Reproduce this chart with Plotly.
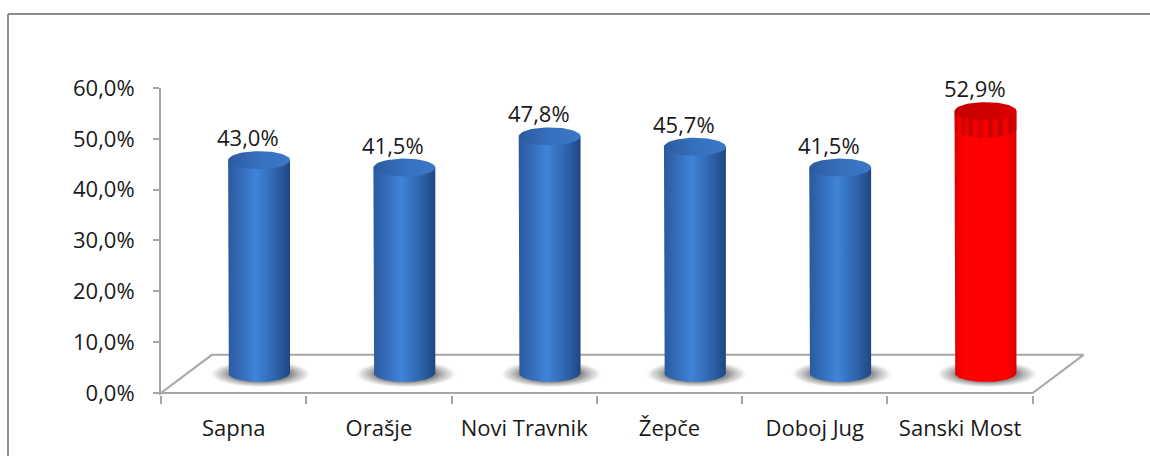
import numpy as np
import plotly.graph_objects as go

# ---------------- data ----------------
categories = ["Sapna", "Orašje", "Novi Travnik", "Žepče", "Doboj Jug", "Sanski Most"]
values = [43.0, 41.5, 47.8, 45.7, 41.5, 52.9]
highlight = [False, False, False, False, False, True]
y_ticks = [0, 10, 20, 30, 40, 50, 60]
y_tick_labels = ["0,0%", "10,0%", "20,0%", "30,0%", "40,0%", "50,0%", "60,0%"]

# ---------------- geometry (data units) ----------------
DX, DY = 0.35, 7.5        # floor depth offset (x units, y units)
CX_OFF = 0.175            # cylinder centre offset (mid depth)
R = 0.213                 # cylinder radius (x units)
RY = 1.82                 # ellipse vertical radius (y2 units)
N = 60

FONT = "Open Sans"
GRAY = "#a6a6a6"

BLUE_BODY = [[0, "#2a5a9e"], [0.18, "#3369b5"], [0.45, "#3f84d8"],
             [0.75, "#2f65b0"], [1, "#1f4780"]]
BLUE_CAP = [[0, "#2b5b9f"], [0.5, "#3670bd"], [1, "#3b78c6"]]
RED_BODY = [[0, "#e00000"], [0.15, "#ff0000"], [0.85, "#ff0000"], [1, "#d80000"]]
RED_CAP = [[0, "#c40000"], [0.6, "#d00000"], [1, "#dc0000"]]
RED_BAND = [[0, "#b80000"], [0.08, "#ff0000"], [0.14, "#b00000"], [0.2, "#f00000"],
            [0.27, "#a80000"], [0.33, "#ff0000"], [0.4, "#c00000"], [0.5, "#ff0000"],
            [0.58, "#b00000"], [0.66, "#f80000"], [0.74, "#a80000"], [0.82, "#ff0000"],
            [0.9, "#b80000"], [1, "#e00000"]]

fig = go.Figure()

# floor (on primary y axis)
fx = [-0.5, -0.5 + DX, 5.5 + DX, 5.5, -0.5]
fy = [0, DY, DY, 0, 0]
fig.add_trace(go.Scatter(x=fx, y=fy, mode="lines", fill="toself",
                         fillcolor="white", line=dict(color=GRAY, width=2),
                         hoverinfo="skip", showlegend=False))

t_full = np.linspace(0, 2 * np.pi, N)
t_low = np.linspace(np.pi, 2 * np.pi, N)

# shadows
for i, v in enumerate(values):
    cx = i + CX_OFF
    sx = cx + 0.01 + 0.36 * np.cos(t_full)
    sy = -0.2 + 2.8 * np.sin(t_full)
    fig.add_trace(go.Scatter(
        x=sx, y=sy, yaxis="y2", mode="lines", line=dict(width=0),
        fill="toself",
        fillgradient=dict(type="radial", colorscale=[
            [0, "rgba(85,85,85,1)"], [0.6, "rgba(125,125,125,0.85)"],
            [0.85, "rgba(190,190,190,0.5)"], [1, "rgba(255,255,255,0)"]]),
        hoverinfo="skip", showlegend=False))

# cylinders
for i, v in enumerate(values):
    cx = i + CX_OFF
    body_cs = RED_BODY if highlight[i] else BLUE_BODY
    cap_cs = RED_CAP if highlight[i] else BLUE_CAP
    bx = np.concatenate([[cx - R], cx + R * np.cos(t_low), [cx + R, cx - R]])
    by = np.concatenate([[v], RY * np.sin(t_low), [v, v]])
    fig.add_trace(go.Scatter(
        x=bx, y=by, yaxis="y2", mode="lines", line=dict(width=0),
        fill="toself", fillgradient=dict(type="horizontal", colorscale=body_cs),
        hoverinfo="skip", showlegend=False))
    if highlight[i]:
        band_top, band_bot = v, v - 3.6
        bbx = np.concatenate([[cx - R], cx + R * np.cos(t_low), [cx + R, cx - R]])
        bby = np.concatenate([[band_top], band_bot + RY * np.sin(t_low),
                              [band_top, band_top]])
        fig.add_trace(go.Scatter(
            x=bbx, y=bby, yaxis="y2", mode="lines", line=dict(width=0),
            fill="toself", opacity=0.75,
            fillgradient=dict(type="horizontal", colorscale=RED_BAND),
            hoverinfo="skip", showlegend=False))
    capx = cx + R * np.cos(t_full)
    capy = v + RY * np.sin(t_full)
    fig.add_trace(go.Scatter(
        x=capx, y=capy, yaxis="y2", mode="lines", line=dict(width=0),
        fill="toself", fillgradient=dict(type="horizontal", colorscale=cap_cs),
        hoverinfo="skip", showlegend=False))
    fig.add_annotation(x=cx - 0.075, y=v + RY, yref="y2", xref="x",
                       text=f"{v:.1f}%".replace(".", ","), showarrow=False,
                       yanchor="middle", yshift=14,
                       font=dict(family=FONT, size=22, color="#1a1a1a"))

# ---------------- layout ----------------
W, H = 1150, 456
ML, MR, MT, MB = 161, 65, 88, 61
pw, ph = W - ML - MR, H - MT - MB

fig.update_layout(
    width=W, height=H,
    margin=dict(l=ML, r=MR, t=MT, b=MB),
    paper_bgcolor="white", plot_bgcolor="white",
    showlegend=False,
    xaxis=dict(range=[-0.5, 5.5 + DX + 0.01], showgrid=False, zeroline=False,
               showline=False, tickvals=list(range(len(categories))),
               ticktext=categories, ticks="", ticklabelstandoff=18,
               tickfont=dict(family=FONT, size=22, color="#1a1a1a"),
               minor=dict(tickvals=[k - 0.5 for k in range(len(categories) + 1)],
                          ticks="outside", ticklen=8, tickcolor=GRAY,
                          tickwidth=2, showgrid=False),
               fixedrange=True),
    yaxis=dict(range=[-0.4, 60], showgrid=False, zeroline=False,
               showline=True, linecolor=GRAY, linewidth=2,
               tickvals=y_ticks, ticktext=y_tick_labels,
               ticks="outside", ticklen=6, tickcolor=GRAY, tickwidth=2,
               ticklabelstandoff=14,
               tickfont=dict(family=FONT, size=22, color="#1a1a1a"),
               fixedrange=True),
    yaxis2=dict(range=[-(395 - 373) / 4.95, (373 - 88) / 4.95],
                overlaying="y", visible=False, fixedrange=True),
)

# outer chart border (top and left edges)
fig.add_shape(type="line", xref="paper", yref="paper",
              x0=(8 - ML) / pw, x1=(W + 5 - ML) / pw,
              y0=(H - 14 - MB) / ph, y1=(H - 14 - MB) / ph,
              line=dict(color="#8c8c8c", width=2))
fig.add_shape(type="line", xref="paper", yref="paper",
              x0=(8 - ML) / pw, x1=(8 - ML) / pw,
              y0=(-10 - MB) / ph, y1=(H - 14 - MB) / ph,
              line=dict(color="#8c8c8c", width=2))

fig.write_html("out.html", config={"displayModeBar": False},
               post_script="document.body.style.margin='0';"
                           "document.body.style.overflow='hidden';")
